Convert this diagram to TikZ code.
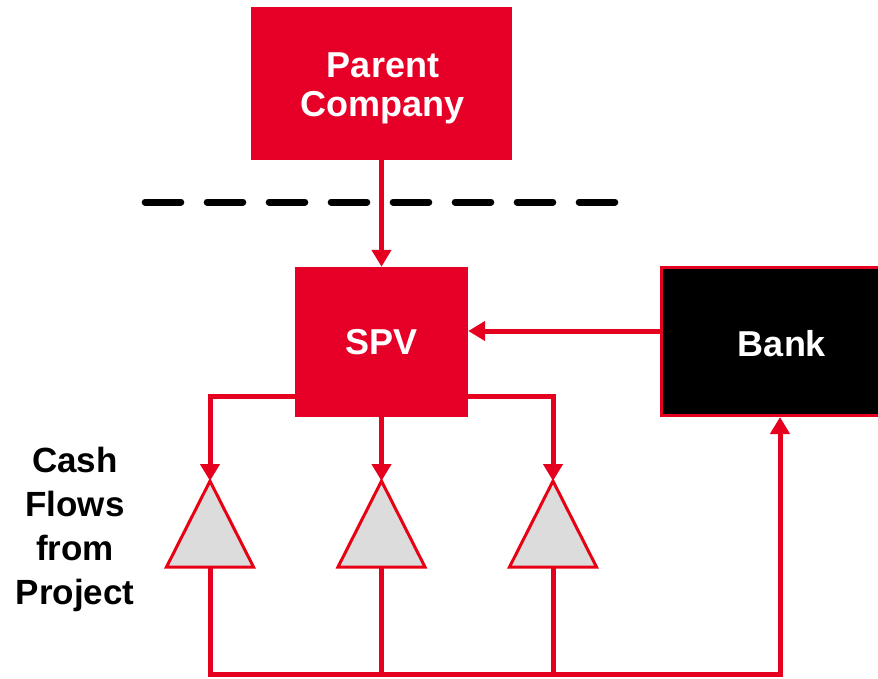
\documentclass[tikz,border=0pt]{standalone}
\usepackage{fontspec}
\setmainfont{Liberation Sans}
\usetikzlibrary{arrows.meta}
\definecolor{boxred}{RGB}{230,0,40}
\definecolor{linered}{RGB}{230,0,32}
\definecolor{trired}{RGB}{232,0,20}
\definecolor{trigray}{RGB}{220,220,220}
\tikzset{
  boxfont/.style={text=white, font=\bfseries\fontsize{36}{39}\selectfont, align=center, inner sep=0pt},
  redbox/.style={rectangle, fill=boxred, draw=none, boxfont},
  bankbox/.style={rectangle, fill=black, draw=linered, line width=3pt, boxfont},
  conn/.style={draw=linered, line width=5pt},
  arr/.style={conn, -{Triangle[width=19pt,length=17pt]}},
  flowtri/.style={draw=trired, fill=trigray, line width=3pt, line join=miter},
  divider/.style={draw=black, line width=7pt, line cap=round, dash pattern=on 35.6pt off 26.4pt},
  sidelabel/.style={font=\bfseries\fontsize{35}{44}\selectfont, align=center, inner sep=0pt}
}
\begin{document}
\begin{tikzpicture}[x=1pt,y=-1pt]
  \clip (0,0) rectangle (878,678);

  % boxes
  \node[redbox, minimum width=261pt, minimum height=153pt] (parent) at (381.5,83.5) {};
  \node[boxfont] (parentlbl) at (383,88) {Parent\\Company};
  \node[redbox, minimum width=173pt, minimum height=150pt] (spv) at (381.5,342) {SPV};
  \node[bankbox, minimum width=241pt, minimum height=148pt] (bank) at (782,341.5) {};
  \node[boxfont] (banklbl) at (782,344) {Bank};

  % ownership boundary
  \draw[divider] (145.2,202) -- (614.8,202);

  % project cash-flow triangles
  \foreach \i/\cx in {1/210, 2/381.5, 3/553} {
    \coordinate (t\i top) at (\cx,481);
    \coordinate (t\i bot) at (\cx,567);
    \draw[flowtri] (\cx,481) -- (\cx+43.5,567) -- (\cx-43.5,567) -- cycle;
  }

  % side label
  \node[sidelabel] (cfp) at (75,529.5) {Cash\\Flows\\from\\Project};

  % equity and loan flows into the SPV
  \draw[arr] (parent.south) -- (spv.north);
  \draw[arr] (bank.west |- 0,331) -- (spv.east |- 0,331);

  % SPV funding the projects
  \draw[arr] (spv.west |- 0,396) -| (t1top);
  \draw[arr] (spv.south) -- (t2top);
  \draw[arr] (spv.east |- 0,396) -| (t3top);

  % cash flows back to the bank
  \coordinate (rail) at (780,674);
  \draw[conn] (t2bot) -- (t2bot |- rail);
  \draw[conn] (t3bot) -- (t3bot |- rail);
  \draw[arr] (t1bot) |- (rail) -- (bank.south -| rail);
\end{tikzpicture}
\end{document}
